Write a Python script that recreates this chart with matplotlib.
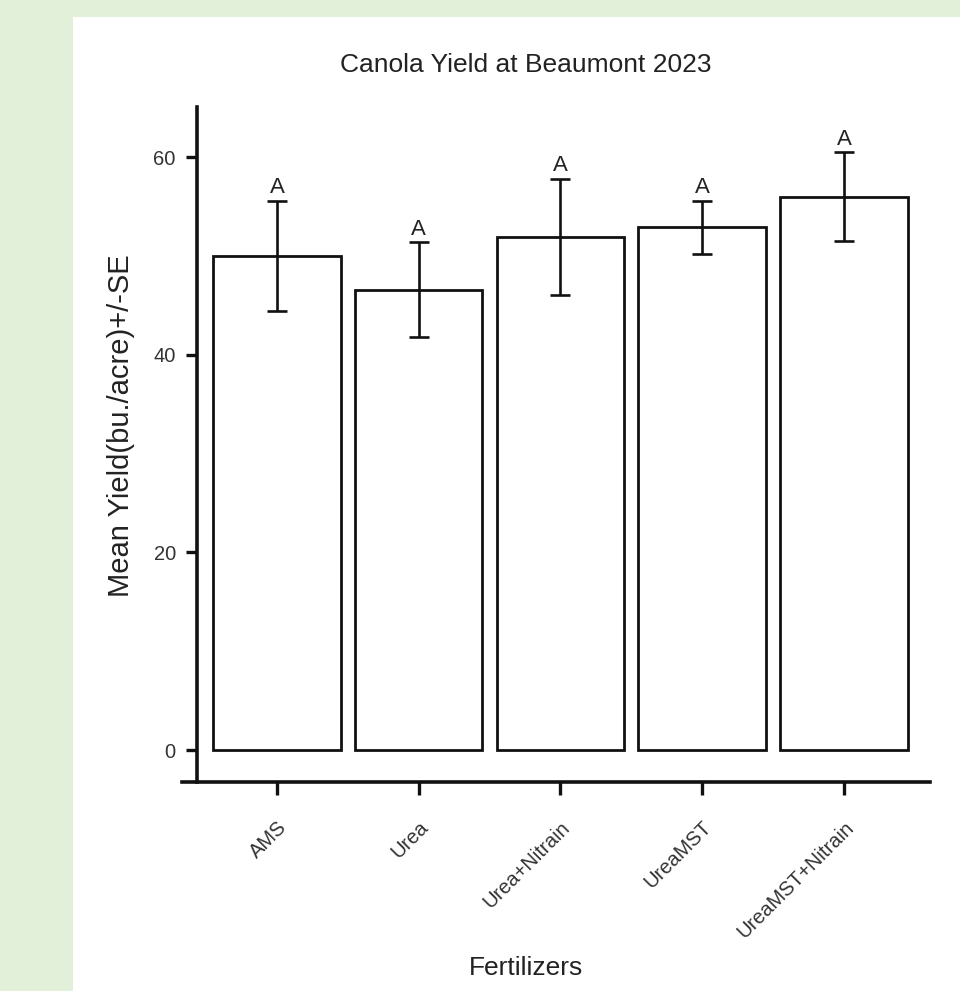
import matplotlib
matplotlib.use("Agg")
import matplotlib.pyplot as plt
from matplotlib.patches import Rectangle

# data
fertilizers = ["AMS", "Urea", "Urea+Nitrain", "UreaMST", "UreaMST+Nitrain"]
mean_yield = [50.0, 46.6, 51.9, 52.9, 56.0]
se = [5.6, 4.8, 5.9, 2.7, 4.5]
letters = ["A", "A", "A", "A", "A"]
y_ticks = [0, 20, 40, 60]

plt.rcParams["font.family"] = ["Liberation Sans", "DejaVu Sans"]

W, H = 960, 991
fig = plt.figure(figsize=(W / 100, H / 100), dpi=100)
fig.patch.set_facecolor("#e2efd9")
# white panel on the green slide
fig.patches.append(Rectangle((73 / W, 0), 1 - 73 / W, (H - 17) / H,
                             transform=fig.transFigure, facecolor="white",
                             edgecolor="none", zorder=-10))

left, right, bottom, top = 181.7, 930, 781.7, 106.7
ax = fig.add_axes([left / W, 1 - bottom / H, (right - left) / W, (bottom - top) / H])
ax.set_facecolor("none")

x = list(range(len(fertilizers)))
ax.bar(x, mean_yield, width=0.9, facecolor="white", edgecolor="#111111",
       linewidth=2.0, zorder=2)
ax.errorbar(x, mean_yield, yerr=se, fmt="none", ecolor="#111111",
            elinewidth=1.9, capsize=7, capthick=1.9, zorder=3)
for xi, m, s, lab in zip(x, mean_yield, se, letters):
    ax.text(xi, m + s + 0.25, lab, ha="center", va="bottom", fontsize=16,
            color="#222222", zorder=4)

ax.set_xlim(-0.672, 4.607)
ax.set_ylim(-3.2, 65.1)

for side in ["top", "right"]:
    ax.spines[side].set_visible(False)
ax.spines["left"].set_position(("data", -0.5665))
ax.spines["left"].set_linewidth(2.6)
ax.spines["bottom"].set_linewidth(2.6)
ax.spines["left"].set_color("#111111")
ax.spines["bottom"].set_color("#111111")

ax.set_yticks(y_ticks)
ax.set_xticks(x)
ax.set_xticklabels(fertilizers, rotation=45, ha="right", va="top",
                   rotation_mode="anchor")
ax.tick_params(axis="y", length=8, width=2.4, pad=7, labelsize=14.5,
               labelcolor="#333333", color="#111111")
ax.tick_params(axis="x", length=9, width=2.4, pad=17, labelsize=14.5,
               labelcolor="#333333", color="#111111")

fig.text(526 / W, 1 - 65 / H, "Canola Yield at Beaumont 2023",
         ha="center", va="center", fontsize=19, color="#222222")
fig.text(526 / W, 1 - 968 / H, "Fertilizers", ha="center", va="center",
         fontsize=19, color="#222222")
fig.text(121 / W, 1 - 426 / H, "Mean Yield(bu./acre)+/-SE", rotation=90,
         ha="center", va="center", fontsize=21, color="#222222")

fig.savefig("out.png", dpi=100, facecolor=fig.get_facecolor())
